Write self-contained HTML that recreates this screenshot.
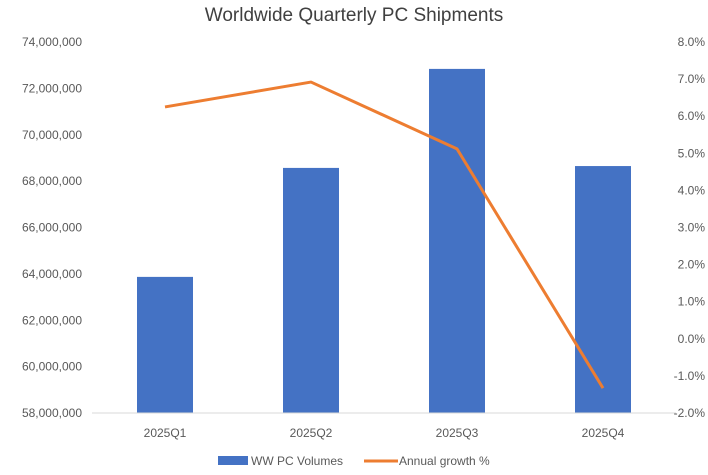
<!DOCTYPE html>
<html><head><meta charset="utf-8"><style>
body{margin:0;background:#fff}
svg text{font-family:"Liberation Sans",sans-serif;fill:#595959}
</style></head><body>
<svg width="708" height="470" viewBox="0 0 708 470" xmlns="http://www.w3.org/2000/svg" id="c">
<text x="354" y="21" text-anchor="middle" font-size="19" style="fill:#404040">Worldwide Quarterly PC Shipments</text>
<g id="left"></g><g id="right"></g><g id="bars"></g><g id="line"></g><g id="xl"></g>
<line x1="92" y1="413" x2="676" y2="413" stroke="#d9d9d9" stroke-width="1"/>
<g>
<rect x="218" y="456" width="30" height="9" fill="#4472c4"/>
<text x="251" y="465" font-size="12">WW PC Volumes</text>
<line x1="364" y1="461" x2="398" y2="461" stroke="#ed7d31" stroke-width="3"/>
<text x="399" y="465" font-size="12">Annual growth %</text>
</g>
</svg>
<script>
const categories=["2025Q1","2025Q2","2025Q3","2025Q4"];
const volumes=[63870000,68570000,72840000,68650000];
const growth=[6.25,6.92,5.12,-1.33];
const leftTicks=[58000000,60000000,62000000,64000000,66000000,68000000,70000000,72000000,74000000];
const rightTicks=[-2,-1,0,1,2,3,4,5,6,7,8];
const NS="http://www.w3.org/2000/svg";
const X0=92,X1=676,Y0=413,Y1=42;
const yL=v=>Y0-(v-58000000)/16000000*(Y0-Y1);
const yR=v=>Y0-(v+2)/10*(Y0-Y1);
const band=(X1-X0)/categories.length;
const xC=i=>X0+band*(i+0.5);
function mk(t,a,p){const e=document.createElementNS(NS,t);for(const k in a)e.setAttribute(k,a[k]);document.getElementById(p).appendChild(e);return e;}
leftTicks.forEach(v=>{const e=mk('text',{x:82,y:yL(v)+4,'text-anchor':'end','font-size':12},'left');


e.textContent=v.toLocaleString('en-US');});
rightTicks.forEach(v=>{const e=mk('text',{x:705,y:yR(v)+4,'text-anchor':'end','font-size':12},'right');


e.textContent=v.toFixed(1)+'%';});
categories.forEach((c,i)=>{const b=mk('rect',{x:xC(i)-28,y:yL(volumes[i]),width:56,height:Y0-yL(volumes[i]),fill:'#4472c4'},'bars');


const t=mk('text',{x:xC(i),y:437,'text-anchor':'middle','font-size':12},'xl');


t.textContent=c;});
const pl=mk('polyline',{points:growth.map((g,i)=>xC(i)+','+yR(g)).join(' '),fill:'none',stroke:'#ed7d31','stroke-width':3,'stroke-linejoin':'round'},'line');


</script>
</body></html>
